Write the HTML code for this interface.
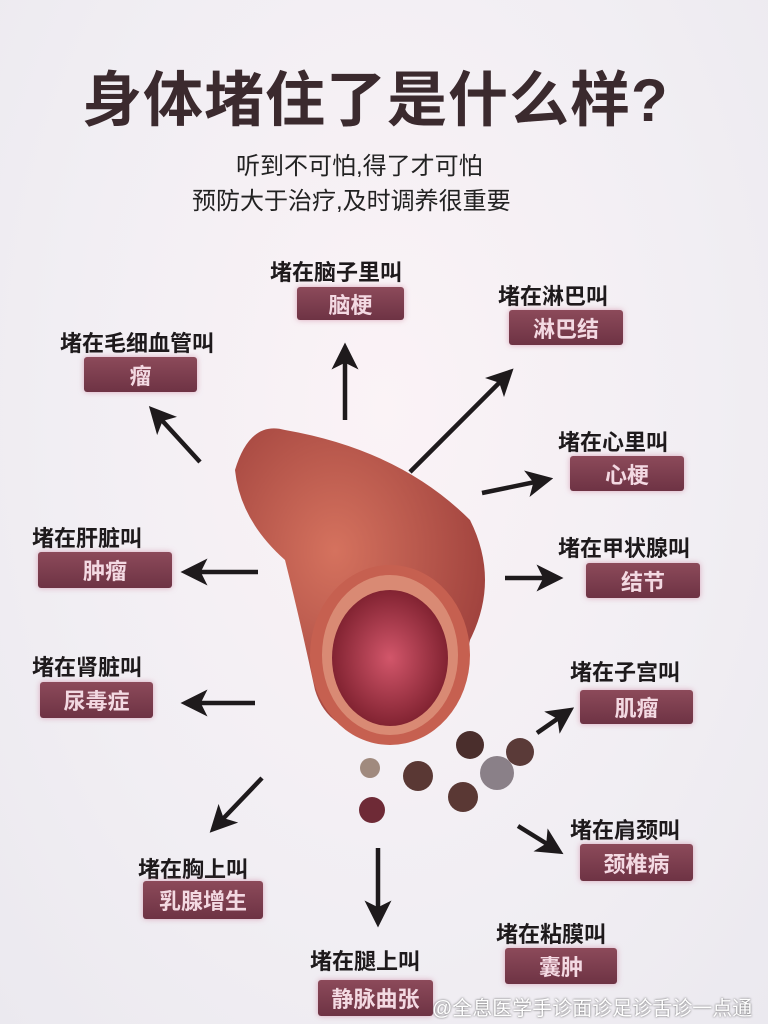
<!DOCTYPE html>
<html><head><meta charset="utf-8"><style>
body{margin:0;width:768px;height:1024px;overflow:hidden;background:radial-gradient(ellipse at 50% 40%,#fbf3f6 0%,#f1eef3 60%,#ebe9ef 100%);font-family:"Liberation Sans","Noto Sans CJK SC",sans-serif;position:relative}
.t{position:absolute;font-weight:bold;color:#1e1a1c;font-size:22px;white-space:nowrap}
.b{position:absolute;background:linear-gradient(#8c4a5a,#6e3344);border-radius:3px;box-shadow:0 0 6px rgba(200,120,150,.6);color:#f3d9e2;font-weight:bold;font-size:22px;text-align:center;display:flex;align-items:center;justify-content:center}
</style></head><body>
<div class="t" style="left:82px;top:52px;font-size:60px;color:#3b2a2e;letter-spacing:1px">身体堵住了是什么样?</div>
<div class="t" style="left:236px;top:146px;font-size:24px;font-weight:normal;color:#222">听到不可怕,得了才可怕</div>
<div class="t" style="left:192px;top:181px;font-size:24px;font-weight:normal;color:#222">预防大于治疗,及时调养很重要</div>

<svg width="768" height="1024" style="position:absolute;left:0;top:0">
<defs>
<marker id="a" markerWidth="6" markerHeight="6" refX="3" refY="3" orient="auto" markerUnits="strokeWidth"><path d="M0,0L6,3L0,6L1.5,3z" fill="#1e1a1c"/></marker>
<radialGradient id="body" cx="40%" cy="40%" r="70%"><stop offset="0" stop-color="#d5725e"/><stop offset="1" stop-color="#9a3d3a"/></radialGradient>
<radialGradient id="in" cx="50%" cy="50%" r="55%"><stop offset="0" stop-color="#d2566a"/><stop offset="1" stop-color="#7a1e2c"/></radialGradient>
</defs>
<path d="M235,470 Q250,420 285,430 Q400,450 470,520 Q500,580 470,640 Q455,720 400,735 Q330,740 315,690 Q300,620 285,560 Q240,520 235,470z" fill="url(#body)"/>
<ellipse cx="390" cy="655" rx="80" ry="90" fill="#c66050"/>
<ellipse cx="390" cy="655" rx="68" ry="80" fill="#d98a74"/>
<ellipse cx="390" cy="658" rx="58" ry="68" fill="url(#in)"/>
<circle cx="520" cy="752" r="14" fill="#5a3a38"/><circle cx="470" cy="745" r="14" fill="#4a2e2c"/>
<circle cx="418" cy="776" r="15" fill="#5a3834"/><circle cx="463" cy="797" r="15" fill="#5a3834"/>
<circle cx="372" cy="810" r="13" fill="#6e2a36"/><circle cx="497" cy="773" r="17" fill="#8a8088"/>
<circle cx="370" cy="768" r="10" fill="#a08a7e"/>
<g stroke="#1e1a1c" stroke-width="4.5" fill="none" marker-end="url(#a)">
<line x1="345" y1="420" x2="345" y2="356"/>
<line x1="200" y1="462" x2="158" y2="416"/>
<line x1="410" y1="472" x2="504" y2="378"/>
<line x1="482" y1="493" x2="540" y2="481"/>
<line x1="258" y1="572" x2="194" y2="572"/>
<line x1="505" y1="578" x2="550" y2="578"/>
<line x1="255" y1="703" x2="194" y2="703"/>
<line x1="537" y1="733" x2="563" y2="715"/>
<line x1="262" y1="778" x2="219" y2="823"/>
<line x1="378" y1="848" x2="378" y2="914"/>
<line x1="518" y1="826" x2="552" y2="847"/>
</g></svg>

<div class="t" style="left:270px;top:255px">堵在脑子里叫</div><div class="b" style="left:297px;top:287px;width:107px;height:33px">脑梗</div>
<div class="t" style="left:498px;top:279px">堵在淋巴叫</div><div class="b" style="left:509px;top:310px;width:114px;height:35px">淋巴结</div>
<div class="t" style="left:60px;top:326px">堵在毛细血管叫</div><div class="b" style="left:84px;top:357px;width:113px;height:35px">瘤</div>
<div class="t" style="left:558px;top:425px">堵在心里叫</div><div class="b" style="left:570px;top:456px;width:114px;height:35px">心梗</div>
<div class="t" style="left:32px;top:521px">堵在肝脏叫</div><div class="b" style="left:38px;top:552px;width:134px;height:36px">肿瘤</div>
<div class="t" style="left:558px;top:531px">堵在甲状腺叫</div><div class="b" style="left:586px;top:563px;width:114px;height:35px">结节</div>
<div class="t" style="left:32px;top:650px">堵在肾脏叫</div><div class="b" style="left:40px;top:682px;width:113px;height:36px">尿毒症</div>
<div class="t" style="left:570px;top:655px">堵在子宫叫</div><div class="b" style="left:580px;top:690px;width:113px;height:34px">肌瘤</div>
<div class="t" style="left:570px;top:813px">堵在肩颈叫</div><div class="b" style="left:580px;top:844px;width:113px;height:37px">颈椎病</div>
<div class="t" style="left:138px;top:852px">堵在胸上叫</div><div class="b" style="left:143px;top:881px;width:120px;height:38px">乳腺增生</div>
<div class="t" style="left:496px;top:917px">堵在粘膜叫</div><div class="b" style="left:505px;top:948px;width:112px;height:36px">囊肿</div>
<div class="t" style="left:310px;top:944px">堵在腿上叫</div><div class="b" style="left:318px;top:980px;width:115px;height:36px">静脉曲张</div>
<div class="t" style="left:432px;top:992px;font-size:20px;font-weight:normal;color:#fff;text-shadow:0 0 2px #555">@全息医学手诊面诊足诊舌诊一点通</div>
</body></html>
